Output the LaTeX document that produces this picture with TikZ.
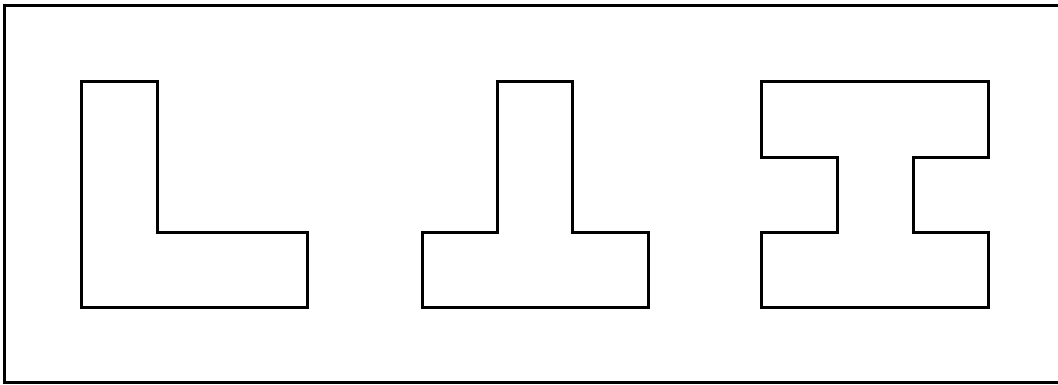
\documentclass[tikz,border=0pt]{standalone}
\begin{document}
\begin{tikzpicture}[x=1pt,y=-1pt,line join=miter,
  outline/.style={draw=black,line width=3pt}]
\useasboundingbox (0,0) rectangle (1058,385);
\clip (0,0) rectangle (1058,385);
\draw[outline] (4.5,6) rectangle (1062,382);
% L
\draw[outline] (81.5,81.5) -- (157,81.5) -- (157,232) -- (307,232) -- (307,307) -- (81.5,307) -- cycle;
% inverted T
\draw[outline] (497.5,81.5) -- (572.5,81.5) -- (572.5,232) -- (648,232) -- (648,307) -- (422,307) -- (422,232) -- (497.5,232) -- cycle;
% I
\draw[outline] (761.5,81.5) -- (988,81.5) -- (988,157.5) -- (913.5,157.5) -- (913.5,232) -- (988,232) -- (988,307) -- (761.5,307) -- (761.5,232) -- (837.5,232) -- (837.5,157.5) -- (761.5,157.5) -- cycle;
\end{tikzpicture}
\end{document}
